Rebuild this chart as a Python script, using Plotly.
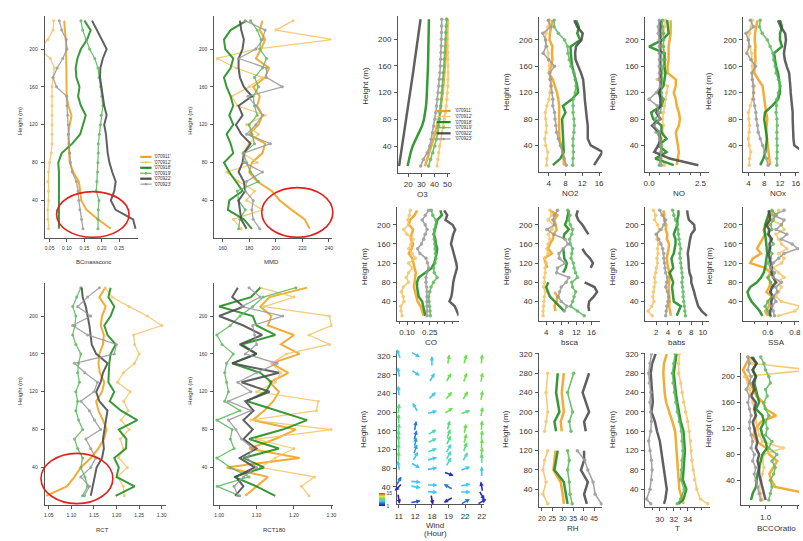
import plotly.graph_objects as go
from plotly.colors import sample_colorscale
import math

W, H = 803, 541
FONT = "Liberation Sans, Arial, sans-serif"

# ---------------------------------------------------------------- data
series_names = ["'070911'", "'070912'", "'070918'", "'070919'", "'070922'", "'070923'"]
heights = [10, 20, 30, 40, 50, 60, 70, 80, 90, 100, 110, 120, 130, 140, 150, 160,
           170, 180, 190, 200, 210, 220, 230]

bcmass = [
    [0.226,0.189,0.156,0.141,0.138,0.134,0.118,0.108,0.106,0.106,0.104,0.108,0.113,0.104,0.099,0.099,0.099,0.097,0.099,0.099,0.097,0.094,0.092],
    [0.047,0.045,0.045,0.047,0.047,0.045,0.047,0.050,0.055,0.057,0.057,0.057,0.057,0.057,0.057,0.057,0.060,0.064,0.052,0.022,0.045,0.060,0.062],
    [0.077,0.077,0.077,0.078,0.078,0.078,0.077,0.075,0.085,0.115,0.138,0.146,0.154,0.140,0.132,0.136,0.127,0.125,0.130,0.140,0.158,0.168,0.150],
    [0.189,0.189,0.190,0.192,0.184,0.186,0.188,0.189,0.190,0.190,0.193,0.196,0.198,0.203,0.200,0.197,0.192,0.189,0.180,0.165,0.155,0.145,0.140],
    [0.297,0.290,0.240,0.226,0.236,0.240,0.230,0.222,0.217,0.215,0.212,0.207,0.214,0.207,0.203,0.198,0.195,0.196,0.203,0.214,0.200,0.186,0.172],
    [0.146,0.142,0.137,0.134,0.132,0.127,0.115,0.110,0.108,0.106,0.104,0.104,0.102,0.100,0.099,0.070,0.060,0.072,0.088,0.100,0.098,0.085,0.078],
]
mmd = [
    [225.5,221.8,212,203,197,186,180,182,190,192,180,187,190,186,188,183,192,195,185,189,192,188,190],
    [174,168,190,178,184,172,163,186,175,180,187,178,192,171,167,180,190,170,156,185,243,200,213],
    [182,176,164,165,175,170,165,161,168,166,163,168,165,168,166,163,161,166,168,162,161,166,178],
    [172,173,177,172,171,187,181,178,176,184,182,180,186,184,183,187,184,190,193,188,189,186,181],
    [178,174,173,172,177,176,172,175,176,181,174,170,175,172,182,176,173,172,172,175,176,174,173],
    [188,183,182,183,177,178,190,176,176,196,178,185,190,185,179,205,193,193,172,185,190,192,177],
]
rct = [
    [1.044,1.090,1.107,1.121,1.143,1.160,1.172,1.178,1.170,1.160,1.155,1.168,1.173,1.163,1.160,1.162,1.170,1.172,1.165,1.168,1.176,1.162,1.175],
    [1.217,1.215,1.202,1.224,1.205,1.215,1.208,1.228,1.210,1.226,1.216,1.230,1.202,1.215,1.240,1.250,1.240,1.238,1.300,1.268,1.228,1.190,1.175],
    [1.198,1.240,1.200,1.205,1.195,1.221,1.222,1.205,1.246,1.210,1.185,1.195,1.182,1.183,1.184,1.187,1.198,1.180,1.173,1.187,1.195,1.182,1.187],
    [1.125,1.136,1.130,1.121,1.125,1.114,1.107,1.125,1.116,1.110,1.114,1.110,1.118,1.114,1.116,1.121,1.110,1.103,1.108,1.110,1.103,1.112,1.121],
    [1.143,1.147,1.152,1.156,1.168,1.172,1.170,1.173,1.176,1.180,1.162,1.155,1.165,1.170,1.180,1.155,1.145,1.143,1.140,1.136,1.132,1.125,1.123],
    [1.129,1.140,1.121,1.143,1.154,1.143,1.132,1.165,1.151,1.140,1.121,1.150,1.158,1.130,1.107,1.195,1.200,1.136,1.103,1.143,1.114,1.136,1.162],
]
rct180 = [
    [1.070,1.100,1.131,1.020,1.215,1.080,1.150,1.205,1.090,1.120,1.145,1.160,1.135,1.185,1.140,1.215,1.165,1.200,1.130,1.140,1.110,1.135,1.235],
    [1.240,1.220,1.255,1.110,1.150,1.200,1.100,1.300,1.085,1.260,1.265,1.100,1.150,1.165,1.140,1.180,1.295,1.240,1.300,1.295,1.120,1.200,1.110],
    [1.150,1.100,1.040,1.120,1.065,1.160,1.080,1.170,1.235,1.155,1.075,1.125,1.140,1.110,1.035,1.100,1.060,1.150,1.100,1.090,1.000,1.085,1.110],
    [1.055,0.995,1.080,1.030,0.994,1.040,1.030,1.035,0.994,1.056,1.015,1.025,1.020,1.015,1.020,1.038,1.008,0.994,1.030,1.056,1.090,1.118,1.205],
    [1.043,1.065,1.045,1.095,1.055,1.100,1.065,1.090,1.065,1.092,1.070,1.135,1.060,1.160,1.035,1.100,1.055,1.115,1.065,1.000,1.065,1.035,1.050],
    [1.050,1.040,1.065,1.100,1.075,1.090,1.060,1.045,1.025,1.085,1.025,1.085,1.050,1.100,1.155,1.070,1.100,1.095,1.090,1.170,1.060,1.110,1.080],
]
o3 = [
    [32.8,34.5,36.2,37.7,39.2,40.6,42.0,43.2,44.2,45.0,45.7,46.3,46.8,47.3,47.8,48.2,48.6,49.0,49.3,49.6,49.8,50.0,50.1],
    [42.0,42.6,43.2,43.8,44.8,45.8,46.8,47.6,48.3,49.0,49.5,49.9,50.2,50.4,50.5,50.5,50.4,50.3,50.2,50.0,49.8,49.6,49.4],
    [19.5,20.5,21.8,23.4,25.8,28.5,30.5,32.0,33.0,33.6,34.0,34.3,34.6,34.8,35.0,35.1,35.2,35.3,35.4,35.5,35.6,35.7,35.8],
    [35.5,37.0,38.8,40.3,41.5,42.5,43.3,43.8,44.3,44.8,45.2,45.6,46.0,46.4,46.8,47.2,47.5,47.8,48.1,48.4,48.7,49.0,49.3],
    [13.0,13.8,14.6,15.4,16.2,17.0,17.8,18.6,19.4,20.2,20.9,21.6,22.3,23.0,23.7,24.4,25.1,25.8,26.5,27.2,27.9,28.6,29.4],
    [29.5,31.5,34.5,36.4,37.5,38.5,39.5,40.3,41.0,41.6,42.2,42.8,43.3,43.8,44.2,44.5,44.8,45.0,45.2,45.3,45.4,45.5,45.6],
]
no2 = [
    [7.6,7.6,7.4,7.0,6.6,6.5,6.5,6.6,6.5,6.5,6.3,6.0,5.5,5.0,4.0,4.6,4.9,4.8,4.9,4.2,4.3,4.6,4.9],
    [3.5,3.6,3.8,3.3,3.1,3.4,3.5,3.3,3.2,3.6,4.1,4.3,4.5,4.3,4.2,4.2,4.0,3.9,3.6,3.2,3.4,3.8,4.2],
    [5.0,6.8,7.6,7.5,7.4,7.3,7.2,7.2,8.0,7.4,9.5,11.0,10.8,10.4,10.0,9.6,9.4,9.3,9.2,11.5,10.8,11.2,10.5],
    [9.7,9.8,9.9,9.8,9.8,10.0,10.1,10.0,9.8,9.8,9.8,10.3,10.5,10.3,10.0,9.3,8.9,8.6,8.5,7.8,6.3,5.3,5.3],
    [14.8,15.8,16.8,14.0,13.3,13.3,13.3,13.1,12.9,12.8,12.6,12.5,12.4,12.2,11.7,11.0,10.4,10.3,10.5,11.8,12.1,10.8,10.1],
    [8.2,7.7,7.3,6.8,6.3,5.9,5.7,5.5,5.4,5.0,5.0,4.8,4.6,4.4,4.3,5.4,4.0,2.7,3.4,3.3,2.6,4.5,3.9],
]
no = [
    [1.35,1.4,1.45,1.4,1.35,1.3,1.45,1.5,1.45,1.35,1.3,1.2,1.3,1.3,0.9,0.9,0.95,0.95,0.95,1.0,1.05,1.05,1.05],
    [0.75,0.6,0.55,0.6,0.6,0.65,0.7,0.65,0.7,0.75,0.8,0.85,0.9,0.4,0.7,0.75,0.8,0.75,0.7,0.5,0.7,0.75,0.8],
    [1.2,0.3,0.85,0.45,0.85,0.6,0.6,0.2,0.1,0.6,0.7,0.45,0.7,0.75,0.8,0.75,0.75,0.75,0.0,0.65,0.95,0.9,0.88],
    [0.5,0.55,0.6,0.6,0.55,0.35,0.2,0.3,0.55,0.6,0.65,0.6,0.6,0.65,0.6,0.7,0.7,0.7,0.7,0.7,0.7,0.65,0.65],
    [2.4,1.0,0.25,0.45,0.55,0.5,0.15,0.55,0.35,0.55,0.55,0.5,0.55,0.55,0.55,0.55,0.55,0.55,0.55,0.55,0.55,0.55,0.55],
    [0.6,0.55,0.6,0.55,0.5,0.5,0.25,0.5,0.45,0.4,0.0,0.35,0.55,0.5,0.5,0.5,0.5,0.5,0.5,0.5,0.45,0.45,0.5],
]
nox = [
    [9.5,9.3,9.0,8.8,8.6,8.5,8.6,8.8,8.5,8.3,8.0,7.8,7.6,6.5,5.5,5.6,5.8,5.7,5.8,5.6,5.7,6.0,6.3],
    [4.2,4.3,4.6,4.2,4.0,4.2,4.3,4.1,4.0,4.5,5.0,5.3,5.5,5.0,5.0,5.0,4.9,4.8,4.4,4.0,4.3,4.7,5.0],
    [7.0,7.8,8.3,8.5,8.7,8.5,8.3,8.0,8.2,10.0,11.5,12.0,12.0,11.8,11.5,11.0,10.8,10.5,12.5,12.0,12.0,12.5,12.0],
    [11.2,11.2,11.3,11.3,11.2,11.2,11.3,11.2,11.0,11.1,11.2,11.6,12.0,11.6,11.0,10.8,10.4,10.2,9.5,8.8,7.5,6.8,7.0],
    [19.0,19.5,18.0,15.6,15.4,15.3,15.3,15.2,15.2,15.0,14.9,14.7,14.6,14.5,14.3,13.7,13.2,13.0,13.2,13.5,13.3,12.2,11.5],
    [9.0,8.6,8.1,7.6,7.0,6.5,6.3,6.0,5.9,5.6,5.3,5.3,5.2,5.0,4.9,5.8,4.6,3.6,4.2,4.0,3.4,5.3,4.5],
]
co = [
    [0.210,0.200,0.190,0.170,0.162,0.150,0.145,0.150,0.155,0.158,0.150,0.140,0.135,0.111,0.130,0.140,0.125,0.130,0.140,0.112,0.120,0.150,0.166],
    [0.067,0.060,0.058,0.080,0.075,0.062,0.075,0.110,0.095,0.110,0.135,0.110,0.155,0.135,0.111,0.125,0.140,0.100,0.078,0.110,0.105,0.115,0.122],
    [0.221,0.215,0.210,0.200,0.177,0.170,0.166,0.166,0.177,0.220,0.263,0.280,0.290,0.295,0.299,0.290,0.287,0.276,0.285,0.295,0.300,0.330,0.320],
    [0.254,0.252,0.248,0.245,0.243,0.250,0.258,0.275,0.299,0.280,0.275,0.285,0.290,0.288,0.285,0.283,0.280,0.276,0.280,0.290,0.290,0.270,0.260],
    [0.442,0.431,0.415,0.380,0.392,0.398,0.400,0.405,0.412,0.420,0.430,0.425,0.418,0.410,0.400,0.390,0.395,0.405,0.418,0.400,0.354,0.365,0.345],
    [0.232,0.232,0.232,0.232,0.232,0.232,0.230,0.225,0.225,0.230,0.243,0.235,0.225,0.185,0.170,0.195,0.210,0.220,0.232,0.220,0.200,0.221,0.243],
]
bsca = [
    [None,6.5,6.2,6.8,7.0,6.2,None,None,None,None,4.3,4.0,3.5,5.5,4.5,5.0,5.8,6.0,6.8,6.5,6.2,7.0,5.0],
    [3.2,3.2,3.3,3.4,3.5,3.8,3.3,3.6,3.5,3.8,3.7,4.0,3.6,4.5,4.2,4.5,5.0,4.6,5.5,6.0,4.5,5.5,5.0],
    [None,8.8,7.5,6.2,5.0,4.5,4.0,4.6,None,8.5,9.2,9.5,8.8,8.7,8.5,None,8.6,8.8,10.0,9.0,9.5,9.8,10.0],
    [14.1,12.3,10.5,11.0,11.4,11.8,11.0,10.8,12.3,11.8,11.4,11.2,10.6,10.8,11.0,10.4,10.2,10.8,11.0,10.4,10.0,10.3,9.7],
    [None,15.4,15.2,15.4,16.6,17.5,16.8,14.2,None,None,15.8,16.4,15.6,14.4,13.6,None,None,15.2,14.4,13.6,12.5,12.0,12.4],
    [None,8.8,9.5,8.0,7.2,7.6,8.0,9.3,10.0,6.8,7.0,9.0,7.5,7.4,8.5,9.8,9.0,6.0,4.2,6.3,5.8,6.2,7.0],
]
babs = [
    [4.5,4.3,4.2,4.3,4.2,4.2,4.1,4.2,4.3,4.2,4.0,3.9,3.8,4.0,4.1,4.2,3.8,3.9,3.6,3.7,3.3,3.4,3.2],
    [1.3,0.6,1.2,1.6,1.4,1.5,1.6,1.8,1.7,1.9,2.0,2.2,2.1,2.3,2.2,2.4,2.1,2.0,2.5,2.2,1.7,1.9,1.5],
    [5.5,5.9,6.2,5.0,4.9,4.7,4.7,4.9,4.6,4.3,4.9,4.7,4.6,5.0,5.2,5.3,5.3,5.0,5.3,5.6,5.6,5.8,5.8],
    [7.0,6.9,6.8,6.7,6.6,6.6,6.5,6.4,6.5,6.4,6.3,6.2,6.1,6.0,6.2,6.0,5.9,5.8,5.7,5.6,5.3,5.0,4.8],
    [10.7,9.8,9.2,8.9,8.7,8.5,8.3,8.0,8.0,7.7,7.6,7.6,7.5,7.4,7.5,7.7,7.8,8.0,8.6,8.5,7.6,7.4,7.3],
    [3.6,3.7,3.8,4.0,4.1,3.9,3.6,3.8,3.9,3.6,3.5,3.4,3.3,3.3,3.1,2.8,2.4,2.0,2.8,3.3,3.6,3.0,2.6],
]
ssa = [
    [0.60,0.58,0.61,0.60,0.63,0.59,0.61,0.62,0.60,0.62,0.58,0.47,0.49,0.55,0.52,0.54,0.56,0.58,0.57,0.60,0.60,0.62,0.64],
    [0.68,0.80,0.84,0.70,0.66,0.68,0.70,0.66,0.72,0.68,0.64,0.70,0.72,0.68,0.74,0.70,0.68,0.66,0.72,0.70,0.62,0.66,0.68],
    [0.56,0.54,0.51,0.48,0.46,0.45,0.47,0.52,0.55,0.57,0.58,0.585,0.59,0.595,0.592,0.590,0.585,0.580,0.575,0.58,0.59,0.60,0.615],
    [0.62,0.60,0.58,0.60,0.63,0.62,0.64,0.62,0.60,0.64,0.62,0.60,0.62,0.63,0.61,0.64,0.62,0.60,0.63,0.62,0.64,0.66,0.63],
    [0.615,0.618,0.628,0.625,0.640,0.618,0.630,0.660,0.640,0.627,0.630,0.620,0.615,0.605,0.617,0.612,0.630,0.605,0.610,0.590,0.617,0.614,0.605],
    [0.65,0.64,0.63,0.66,0.64,0.67,0.66,0.70,0.64,0.65,0.62,0.64,0.68,0.72,0.82,0.78,0.70,0.74,0.66,0.70,0.72,0.64,0.72],
]
bcco_ratio = [
    [2.2,2.3,1.3,1.18,1.12,1.23,1.36,1.12,1.02,0.72,0.62,0.70,0.85,1.33,1.0,0.92,0.72,0.62,0.52,0.42,0.30,0.40,0.52],
    [0.9,0.85,0.8,0.85,0.9,0.95,0.9,0.95,1.55,0.9,0.8,0.75,0.7,0.7,0.65,0.6,0.55,0.5,0.45,0.35,2.4,0.6,0.45],
    [0.55,0.6,0.7,0.72,0.75,0.8,0.85,0.9,1.05,1.0,0.9,0.85,0.95,0.9,0.7,0.8,0.75,0.7,0.65,0.7,0.6,0.72,0.6],
    [1.1,1.15,1.2,1.15,1.25,1.3,1.2,1.35,1.1,1.2,1.0,1.05,1.0,1.1,1.0,0.95,1.05,1.0,1.15,1.1,1.0,0.95,0.85],
    [1.0,0.95,0.9,0.85,0.8,0.8,0.75,0.8,0.7,0.75,0.7,0.65,0.6,0.7,0.65,0.7,0.55,0.65,0.6,0.7,0.6,0.72,0.55],
    [0.85,0.8,0.75,0.7,0.65,0.7,0.6,0.65,0.55,0.6,0.55,0.5,0.5,0.55,0.5,0.45,0.5,0.4,0.5,0.55,0.45,0.5,0.45],
]
rh_heights = [10, 30, 55, 80, 100, 120, None, 160, 180, 200, 240, 280]
rh = [
    [30.5, 30.0, 29.0, 25.5, 26.0, 26.5, None, 29.5, 29.0, 30.5, 29.5, 30.5],
    [22.8, 20.5, 22.0, 20.5, 21.3, 22.8, None, 21.3, 22.0, 22.8, 22.0, 22.8],
    [32.3, 31.5, 30.5, 26.0, 26.8, 27.6, None, 26.8, 26.0, 28.4, 26.8, 27.6],
    [34.5, 33.5, 33.1, 32.3, 33.1, 32.3, None, 33.9, 33.1, 34.7, 32.3, 35.2],
    [41.5, 40.2, 42.0, 38.7, 40.2, 40.2, None, 41.0, 40.2, 42.6, 39.5, 42.6],
    [48.5, 45.5, 44.5, 42.0, 40.5, 37.0, None, None, None, None, None, None],
]
t_heights = [10, 20, 40, 60, 80, 100, 120, 140, 160, 180, 200, 220, 240, 260, 280, 300, 320]
temp = [
    [33.4,33.2,32.8,32.7,32.6,32.5,32.4,32.4,32.2,31.8,31.3,30.9,30.7,30.6,30.5,30.6,31.0],
    [36.9,35.8,35.3,35.0,34.8,34.6,34.5,34.4,34.2,34.0,33.7,33.4,33.2,33.0,32.7,32.7,32.8],
    [32.7,33.4,33.8,33.3,33.4,33.5,33.6,33.5,33.4,33.0,32.7,32.5,32.3,32.1,32.0,32.2,32.4],
    [32.5,33.0,33.5,33.0,33.1,33.2,33.3,33.2,33.1,32.8,32.5,32.3,32.1,31.9,31.8,32.0,32.2],
    [30.6,30.8,31.0,30.8,30.5,30.3,30.1,30.0,29.6,29.3,28.8,29.0,28.9,28.8,28.7,28.9,29.4],
    [28.7,28.1,28.6,28.8,28.9,28.8,28.6,28.4,28.7,28.8,28.7,28.6,28.7,28.5,28.4,28.6,28.8],
]
wind_hours = ['11', '12', '18', '19', '22', '22']
wind_col = [0]*14 + [1]*12 + [2]*12 + [3]*13 + [4]*12 + [5]*13
wind_h = [325,285,245,207,185,165,150,140,122,105,85,52,40,15,
          324,285,210,170,150,135,120,105,86,51,40,8,
          309,274,235,200,157,139,118,100,79,44,29,13,
          313,274,235,203,171,153,139,122,107,93,68,40,12,
          313,274,235,200,164,143,125,104,79,44,29,8,
          313,274,235,200,171,150,132,114,100,72,40,22,8]
wind_dir = [340,350,355,5,0,5,0,355,0,0,350,30,225,170,
            120,125,330,10,15,10,20,30,120,95,100,80,
            0,30,45,75,60,65,70,75,80,90,95,170,
            10,30,40,55,15,20,25,30,30,30,110,300,240,
            15,20,30,70,10,15,20,30,70,80,90,60,
            5,10,10,10,5,5,5,5,0,0,350,150,60]
wind_spd = [6,6,6,8,8,8,8,8,8,8,6,4,2,1.5,
            6,6,6,4,4,5,5,6,6,6,6,3,
            6,6,6,6,7,7,7,6,6,6,6,1.5,
            9,9,9,9,8,8,8,7,7,7,2,4,2,
            9,9,9,8,9,9,8,7,6,6,6,4,
            9,9,9,9,9,9,9,9,8,6,2,2,2]

# ---------------------------------------------------------------- styles
STYLES = [
    dict(color="#F0A11C", width=2.5, marker=False),
    dict(color="#F5C466", width=1.6, marker=True),
    dict(color="#1B8B1B", width=2.5, marker=False),
    dict(color="#5CB95C", width=1.6, marker=True),
    dict(color="#4A4A4A", width=2.5, marker=False),
    dict(color="#999999", width=1.6, marker=True),
]
WIND_SCALE = [[0, '#3a0ca3'], [0.1, '#1f3fc8'], [0.25, '#2a8ae0'], [0.38, '#48d4ee'],
              [0.55, '#5ddf55'], [0.75, '#f2e33a'], [1, '#e8351f']]

Y235 = [40, 80, 120, 160, 200]
Y320 = [40, 80, 120, 160, 200, 240, 280, 320]

# box = (left, right, top, bottom) in pixels of the plotting area
PANELS = [
    dict(data=bcmass, y=heights, box=(43, 137, 12, 236), xr=(0.036, 0.304), yr=(0, 235),
         xt=[0.05, 0.10, 0.15, 0.20, 0.25], xtt=['0.05', '0.10', '0.15', '0.20', '0.25'],
         yt=Y235, title='BCmassconc', tpos=(92, 260), hpos=(18, 118), small=True),
    dict(data=mmd, y=heights, box=(214, 332, 12, 236), xr=(153.8, 242), yr=(0, 235),
         xt=[160, 180, 200, 220, 240], xtt=None,
         yt=Y235, title='MMD', tpos=(272, 260), hpos=(190, 118), small=True),
    dict(data=rct, y=heights, box=(43, 165, 281, 505), xr=(1.041, 1.309), yr=(0, 235),
         xt=[1.05, 1.10, 1.15, 1.20, 1.25, 1.30], xtt=['1.05', '1.10', '1.15', '1.20', '1.25', '1.30'],
         yt=Y235, title='RCT', tpos=(101, 530), hpos=(18, 390), small=True),
    dict(data=rct180, y=heights, box=(214, 333, 281, 505), xr=(0.9875, 1.303), yr=(0, 235),
         xt=[1.0, 1.1, 1.2, 1.3], xtt=['1.00', '1.10', '1.20', '1.30'],
         yt=Y235, title='RCT180', tpos=(275, 530), hpos=(190, 390), small=True),
    dict(data=o3, y=heights, box=(399, 451, 12, 170), xr=(12.2, 51.6), yr=(0, 235),
         xt=[20, 30, 40, 50], xtt=None, yt=Y235, title='O3', tpos=(424, 192), hpos=(366, 82)),
    dict(data=no2, y=heights, box=(541, 605, 13, 169), xr=(1.7, 16.8), yr=(0, 235),
         xt=[4, 8, 12, 16], xtt=None, yt=Y235, title='NO2', tpos=(573, 191), hpos=(508, 88)),
    dict(data=no, y=heights, box=(648, 712, 13, 169), xr=(-0.19, 2.9), yr=(0, 235),
         xt=[0, 2.5], xtt=['0.0', '2.5'], minor=[0.5, 1.0, 1.5, 2.0],
         yt=Y235, title='NO', tpos=(682, 191), hpos=(615, 88)),
    dict(data=nox, y=heights, box=(747, 803, 13, 169), xr=(2.75, 16.8), yr=(0, 235),
         xt=[4, 8, 12, 16], xtt=None, yt=Y235, title='NOx', tpos=(782, 191), hpos=(712, 88)),
    dict(data=co, y=heights, box=(398, 460, 205, 319), xr=(0.034, 0.44), yr=(0, 236),
         xt=[0.10, 0.25], xtt=['0.10', '0.25'], minor=[0.05, 0.15, 0.20, 0.30, 0.35, 0.40],
         yt=Y235, title='CO', tpos=(432, 341), hpos=(365, 264)),
    dict(data=bsca, y=heights, box=(541, 603, 205, 319), xr=(2.1, 18.4), yr=(0, 236),
         xt=[4, 8, 12, 16], xtt=None, minor=[6, 10, 14],
         yt=Y235, title='bsca', tpos=(572, 341), hpos=(508, 264)),
    dict(data=babs, y=heights, box=(648, 712, 205, 319), xr=(0.08, 11.0), yr=(0, 236),
         xt=[2, 4, 6, 8, 10], xtt=None, yt=Y235, title='babs', tpos=(680, 341), hpos=(615, 264)),
    dict(data=ssa, y=heights, box=(747, 803, 205, 319), xr=(0.42, 0.83), yr=(0, 236),
         xt=[0.6, 0.8], xtt=['0.6', '0.8'], minor=[0.5, 0.7],
         yt=Y235, title='SSA', tpos=(780, 341), hpos=(712, 264)),
    None,  # wind panel (index 12) handled separately
    dict(data=rh, y=rh_heights, box=(541, 605, 352, 507), xr=(18.6, 49.0), yr=(3, 321),
         xt=[20, 25, 30, 35, 40, 45], xtt=None, yt=Y320, title='RH', tpos=(575, 528), hpos=(508, 428),
         xfont=7),
    dict(data=temp, y=t_heights, box=(648, 713, 352, 507), xr=(27.9, 37.15), yr=(3, 321),
         xt=[30, 32, 34], xtt=None, minor=[29, 31, 33, 35, 36],
         yt=Y320, title='T', tpos=(681, 528), hpos=(615, 428)),
    dict(data=bcco_ratio, y=heights, box=(745, 803, 352, 505), xr=(0.25, 2.04), yr=(1.9, 235.5),
         xt=[1.0, 2.0], xtt=['1.0', '2.0'], minor=[0.5, 1.5],
         yt=Y235, title='BCCOratio', tpos=(780, 528), hpos=(712, 428)),
]
WIND_BOX = (398, 486, 350, 504)

fig = go.Figure()
annotations = []
shapes = []


def ax_names(i):
    return ('x' if i == 1 else f'x{i}', 'y' if i == 1 else f'y{i}',
            'xaxis' if i == 1 else f'xaxis{i}', 'yaxis' if i == 1 else f'yaxis{i}')


def axis_common(small, fs=None):
    if fs is None:
        fs = 5 if small else 8
    return dict(showgrid=False, zeroline=False, showline=True, linecolor='#555555', linewidth=1,
                ticks='outside', ticklen=3, tickwidth=1, tickcolor='#555555', tickangle=0,
                tickfont=dict(size=fs, color='#333333', family=FONT), fixedrange=True,
                ticklabelstandoff=2 if small else 1)


def add_text(text, px, py, size, angle=0):
    annotations.append(dict(text=text, x=px / W, y=1 - py / H, xref='paper', yref='paper',
                            showarrow=False, textangle=angle, xanchor='center', yanchor='middle',
                            font=dict(size=size, color='#333333', family=FONT)))


layout_axes = {}
for idx, p in enumerate(PANELS):
    i = idx + 1
    xr, yr, xk, yk = ax_names(i)
    if p is None:
        continue
    small = p.get('small', False)
    L, R, T, B = p['box']
    xa = dict(axis_common(small, p.get('xfont')), domain=[L / W, R / W], range=list(p['xr']),
              anchor=yr, tickmode='array', tickvals=p['xt'])
    if p.get('xtt'):
        xa['ticktext'] = p['xtt']
    if p.get('minor'):
        xa['minor'] = dict(tickmode='array', tickvals=p['minor'], ticks='outside', ticklen=2,
                           tickcolor='#555555', tickwidth=1)
    ya = dict(axis_common(small), domain=[1 - B / H, 1 - T / H], range=list(p['yr']), anchor=xr,
              tickmode='array', tickvals=p['yt'])
    layout_axes[xk] = xa
    layout_axes[yk] = ya
    scale = 0.8 if small else 1.0
    for k, xs in enumerate(p['data']):
        st = STYLES[k]
        fig.add_trace(go.Scatter(
            x=xs, y=p['y'], mode='lines+markers' if st['marker'] else 'lines',
            line=dict(color=st['color'], width=st['width'] * scale),
            marker=dict(size=3 if small else 3.5, color=st['color']),
            opacity=0.88, xaxis=xr, yaxis=yr, showlegend=False, hoverinfo='skip',
            name=series_names[k]))
    add_text('Height (m)', p['hpos'][0], p['hpos'][1], 6 if small else 8, angle=-90)
    add_text(p['title'], p['tpos'][0], p['tpos'][1], 6 if small else 8)

# ---------------------------------------------------------------- wind panel
wi = 13
xr, yr, xk, yk = ax_names(wi)
L, R, T, B = WIND_BOX
wx_range = [-0.1, 5.16]
wy_range = [2.6, 330.6]
layout_axes[xk] = dict(axis_common(False), domain=[L / W, R / W], range=wx_range, anchor=yr,
                       tickmode='array', tickvals=list(range(len(wind_hours))), ticktext=wind_hours)
layout_axes[yk] = dict(axis_common(False), domain=[1 - B / H, 1 - T / H], range=wy_range, anchor=xr,
                       tickmode='array', tickvals=Y320)
add_text('Height (m)', 365, 428, 8, angle=-90)
add_text('Wind', 436, 525, 8)
add_text('(Hour)', 437, 533, 8)

px_per_x = (R - L) / (wx_range[1] - wx_range[0])
px_per_y = (B - T) / (wy_range[1] - wy_range[0])
smin, smax = 1, 15
cols = sample_colorscale(WIND_SCALE, [(s - smin) / (smax - smin) for s in wind_spd])
for c, h, d, s, colr in zip(wind_col, wind_h, wind_dir, wind_spd, cols):
    Lp = 11.0
    dx = Lp * math.sin(math.radians(d)) / px_per_x
    dy = Lp * math.cos(math.radians(d)) / px_per_y
    annotations.append(dict(x=c + dx / 2, y=h + dy / 2, ax=c - dx / 2, ay=h - dy / 2,
                            xref=xr, yref=yr, axref=xr, ayref=yr, text='', showarrow=True,
                            arrowhead=2, arrowsize=0.55, arrowwidth=1.6, arrowcolor=colr,
                            standoff=0, startstandoff=0))
fig.add_trace(go.Scatter(
    x=wind_col, y=wind_h, mode='markers', xaxis=xr, yaxis=yr, showlegend=False, hoverinfo='skip',
    marker=dict(size=2, opacity=0, color=wind_spd, cmin=smin, cmax=smax, colorscale=WIND_SCALE,
                showscale=True,
                colorbar=dict(x=380 / W, xanchor='left', y=1 - 499.5 / H, yanchor='middle',
                              lenmode='pixels', len=13, thickness=6, thicknessmode='pixels',
                              outlinewidth=0, tickmode='array', tickvals=[1, 15], ticks='',
                              tickfont=dict(size=5, color='#333333', family=FONT), xpad=0, ypad=0))))


# ---------------------------------------------------------------- legends
def add_legend(x0, x1, tx, rows, size):
    for k, name in enumerate(series_names):
        st = STYLES[k]
        py = rows[k]
        shapes.append(dict(type='line', xref='paper', yref='paper', x0=x0 / W, x1=x1 / W,
                           y0=1 - py / H, y1=1 - py / H,
                           line=dict(color=st['color'], width=2.2 if not st['marker'] else 1.2)))
        if st['marker']:
            xm = (x0 + x1) / 2
            shapes.append(dict(type='circle', xref='paper', yref='paper',
                               x0=(xm - 1.2) / W, x1=(xm + 1.2) / W,
                               y0=1 - (py + 1.2) / H, y1=1 - (py - 1.2) / H,
                               fillcolor=st['color'], line=dict(width=0)))
        annotations.append(dict(text=name, x=tx / W, y=1 - py / H, xref='paper', yref='paper',
                                showarrow=False, xanchor='left', yanchor='middle',
                                font=dict(size=size, color='#333333', family=FONT)))


add_legend(139.3, 150.7, 151.5, [154, 159.5, 165, 170.5, 176, 181.5], 4.6)
add_legend(438, 452, 454, [107.7, 113.3, 119, 124.6, 130.3, 136], 4.6)

# ---------------------------------------------------------------- red circles
for (x0, x1, y0, y1) in [(55, 128, 189, 235), (261.7, 333.3, 185, 235), (39.3, 111.7, 452.7, 503.3)]:
    shapes.append(dict(type='circle', xref='paper', yref='paper', x0=x0 / W, x1=x1 / W,
                       y0=1 - y1 / H, y1=1 - y0 / H, line=dict(color='#E3201B', width=1.6)))

fig.update_layout(
    width=W, height=H, margin=dict(l=0, r=0, t=0, b=0), paper_bgcolor='white',
    plot_bgcolor='rgba(0,0,0,0)', showlegend=False, font=dict(family=FONT, color='#333333'),
    annotations=annotations, shapes=shapes, **layout_axes)

fig.write_html("out.html",
               config={'displayModeBar': False, 'staticPlot': True},
               post_script="document.body.style.margin='0';document.body.style.padding='0';"
                           "document.body.style.overflow='hidden';")
